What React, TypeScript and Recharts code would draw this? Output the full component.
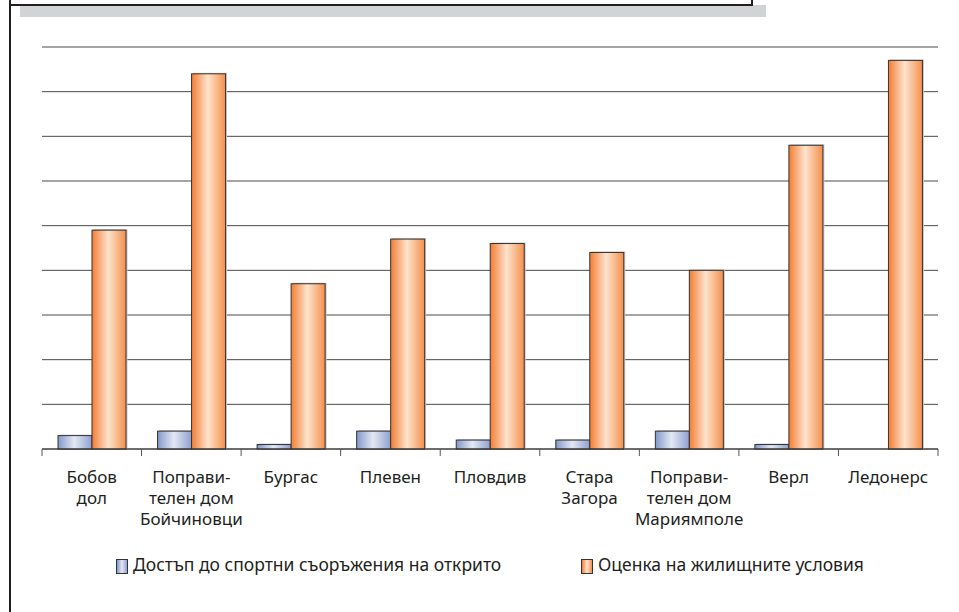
import { BarChart, Bar, XAxis, YAxis, CartesianGrid } from 'recharts';

// Категории (по редове, както са пренесени на оста)
const categoryLines: string[][] = [
  ['Бобов', 'дол'],
  ['Поправи-', 'телен дом', 'Бойчиновци'],
  ['Бургас'],
  ['Плевен'],
  ['Пловдив'],
  ['Стара', 'Загора'],
  ['Поправи-', 'телен дом', 'Мариямполе'],
  ['Верл'],
  ['Ледонерс'],
];

const sportsAccess = [3, 4, 1, 4, 2, 2, 4, 1, 0];
const housingScore = [49, 84, 37, 47, 46, 44, 40, 68, 87];
const yTicks = [0, 10, 20, 30, 40, 50, 60, 70, 80, 90];

const seriesNames = {
  sport: 'Достъп до спортни съоръжения на открито',
  housing: 'Оценка на жилищните условия',
};

const data = categoryLines.map((lines, i) => ({
  name: lines.join(' '),
  sport: sportsAccess[i],
  housing: housingScore[i],
}));

const W = 959;
const H = 612;
const PLOT_LEFT = 42;
const PLOT_RIGHT = 938;
const PLOT_TOP = 47;
const PLOT_BOTTOM = 449;
const STEP = (PLOT_RIGHT - PLOT_LEFT) / categoryLines.length;
const FONT = '"Noto Sans", "Open Sans", sans-serif';
const TEXT = '#231f20';

function CategoryTick(props: any) {
  const { x, payload, index } = props;
  const i = typeof index === 'number' ? index : data.findIndex((d) => d.name === payload.value);
  const lines = categoryLines[i] || [];
  const last = i === categoryLines.length - 1;
  return (
    <g>
      <line x1={x - STEP / 2} x2={x - STEP / 2} y1={PLOT_BOTTOM} y2={PLOT_BOTTOM + 7} stroke="#555" />
      {last && (
        <line x1={x + STEP / 2} x2={x + STEP / 2} y1={PLOT_BOTTOM} y2={PLOT_BOTTOM + 7} stroke="#555" />
      )}
      <text x={x} y={PLOT_BOTTOM + 34} textAnchor="middle" fontSize={17} fill={TEXT} fontFamily={FONT}>
        {lines.map((l, k) => (
          <tspan key={k} x={x} dy={k === 0 ? 0 : 21}>
            {l}
          </tspan>
        ))}
      </text>
    </g>
  );
}

function ShadowBar(props: any) {
  const { x, y, width, height, fill } = props;
  if (!height || height <= 0) return null;
  return (
    <g>
      <rect x={x + 1.5} y={y - 1} width={width} height={height + 1} fill="#c9cacc" />
      <rect x={x} y={y} width={width} height={height} fill={fill} stroke="#333" strokeWidth={1} />
    </g>
  );
}

function LegendSwatch({ grad }: { grad: string }) {
  return (
    <span
      style={{
        display: 'inline-block',
        width: 10,
        height: 13,
        border: '1px solid #333',
        background: grad,
        marginRight: 5,
        verticalAlign: 'middle',
      }}
    />
  );
}

const blueCss = 'linear-gradient(to right, #8398c9, #e3e8f4 50%, #8ea0cf)';
const orangeCss = 'linear-gradient(to right, #f47d34, #fde3cd 50%, #f5904c)';

export default function App() {
  return (
    <div style={{ position: 'absolute', left: 0, top: 0, width: W, height: H, background: '#fff', overflow: 'hidden' }}>
      {/* рамка горе */}
      <div style={{ position: 'absolute', left: 20, top: 5, width: 746, height: 12, background: '#d2d3d5' }} />
      <div
        style={{
          position: 'absolute',
          left: 9,
          top: -20,
          width: 740,
          height: 22,
          border: '2px solid #231f20',
          background: '#fff',
        }}
      />
      <div style={{ position: 'absolute', left: 9, top: 0, width: 2, height: H, background: '#231f20' }} />

      <div style={{ position: 'absolute', left: 0, top: 0 }}>
        <BarChart
          width={W}
          height={H}
          data={data}
          barGap={0}
          barSize={34}
          margin={{ top: PLOT_TOP, right: W - PLOT_RIGHT, left: PLOT_LEFT, bottom: H - PLOT_BOTTOM - 80 }}
        >
          <defs>
            <linearGradient id="gBlue" x1="0" y1="0" x2="1" y2="0">
              <stop offset="0%" stopColor="#8398c9" />
              <stop offset="48%" stopColor="#e3e8f4" />
              <stop offset="100%" stopColor="#8ea0cf" />
            </linearGradient>
            <linearGradient id="gOrange" x1="0" y1="0" x2="1" y2="0">
              <stop offset="0%" stopColor="#f47d34" />
              <stop offset="48%" stopColor="#fde3cd" />
              <stop offset="100%" stopColor="#f5904c" />
            </linearGradient>
          </defs>
          <CartesianGrid vertical={false} stroke="#4a4a4a" strokeWidth={1} />
          <YAxis hide domain={[0, 90]} ticks={yTicks} />
          <XAxis
            dataKey="name"
            height={80}
            interval={0}
            tickLine={false}
            axisLine={{ stroke: '#333' }}
            tick={<CategoryTick />}
          />
          <Bar dataKey="sport" name={seriesNames.sport} fill="url(#gBlue)" shape={<ShadowBar />} isAnimationActive={false} />
          <Bar dataKey="housing" name={seriesNames.housing} fill="url(#gOrange)" shape={<ShadowBar />} isAnimationActive={false} />
        </BarChart>
      </div>

      <div
        style={{
          position: 'absolute',
          top: 554,
          left: 116,
          fontFamily: FONT,
          fontSize: 17.5,
          color: TEXT,
          whiteSpace: 'nowrap',
          lineHeight: '20px',
        }}
      >
        <span style={{ position: 'absolute', left: 0, top: 0 }}>
          <LegendSwatch grad={blueCss} />
          {seriesNames.sport}
        </span>
        <span style={{ position: 'absolute', left: 465, top: 0 }}>
          <LegendSwatch grad={orangeCss} />
          {seriesNames.housing}
        </span>
      </div>
    </div>
  );
}
